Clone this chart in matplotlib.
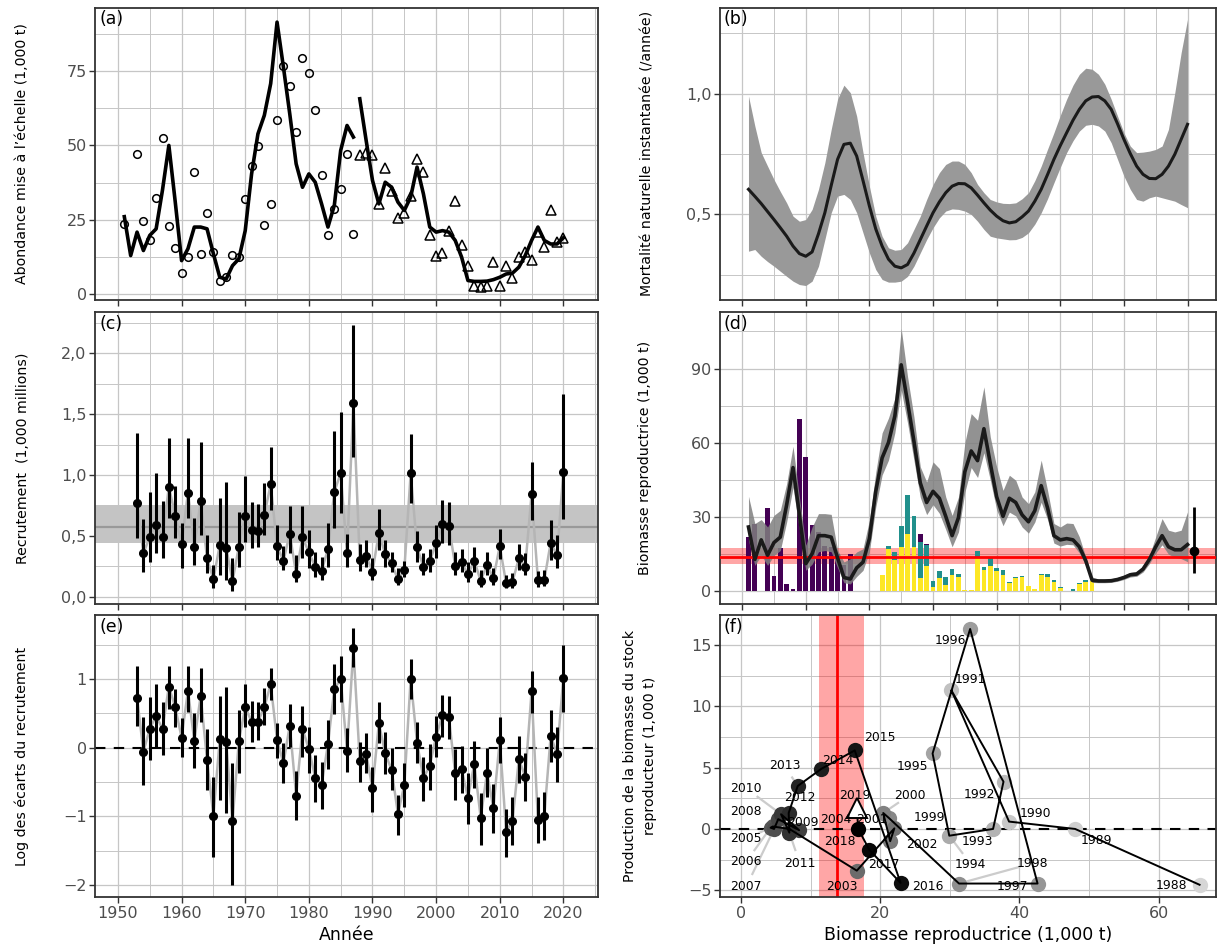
import numpy as np
import matplotlib
matplotlib.use("Agg")
import matplotlib.pyplot as plt
from matplotlib.ticker import FixedLocator

plt.rcParams['font.family'] = ['DejaVu Sans']

# ---- data ----
ssb_years = list(range(1951, 2021))
ssb = [26.0, 12.9, 20.8, 14.6, 19.7, 21.9, 35.0, 50.0, 31.0, 11.2,
       15.2, 22.5, 22.5, 21.9, 13.5, 5.6, 5.0, 9.5, 11.8, 21.3,
       40.4, 53.9, 60.1, 70.8, 91.5, 76.4, 60.6, 43.8, 35.9, 40.4,
       37.6, 30.3, 22.5, 29.8, 48.3, 56.7, 52.8, 65.7, 51.7, 38.2,
       30.3, 37.6, 35.9, 30.9, 28.1, 32.6, 42.7, 33.7, 22.5, 20.8,
       21.3, 20.8, 18.0, 12.4, 4.5, 4.2, 4.2, 4.3, 4.8, 5.6,
       6.7, 7.0, 9.0, 12.9, 18.0, 22.5, 18.0, 16.8, 16.8, 18.9]
ssb_hi = [38.4, 27.4, 29.0, 26.0, 30.7, 32.7, 43.5, 58.6, 38.1, 18.6,
          26.0, 31.4, 31.4, 31.1, 16.6, 11.9, 13.2, 15.9, 17.2, 28.7,
          48.0, 64.0, 70.0, 78.0, 106.2, 86.7, 70.5, 50.3, 44.2, 52.3,
          49.6, 38.1, 30.7, 38.1, 60.0, 71.8, 69.1, 82.6, 62.4, 50.3,
          40.8, 46.9, 44.9, 38.1, 35.4, 40.2, 53.0, 40.8, 27.4, 26.0,
          27.6, 27.4, 22.0, 13.9, 5.8, 5.0, 5.0, 5.1, 5.6, 6.5,
          7.7, 8.0, 10.2, 14.6, 22.0, 29.4, 24.7, 24.0, 24.7, 32.1]
ssb_lo = [20.6, 10.5, 14.5, 10.5, 14.5, 16.5, 28.0, 42.0, 25.0, 8.5,
          11.0, 16.0, 16.5, 16.0, 9.5, 3.5, 3.0, 6.0, 8.5, 16.0,
          34.0, 47.0, 53.0, 64.0, 81.3, 68.0, 53.0, 38.0, 31.0, 35.0,
          31.5, 25.0, 18.0, 24.0, 40.0, 50.0, 46.0, 56.0, 45.0, 33.0,
          26.5, 32.0, 30.5, 26.0, 23.5, 28.0, 36.0, 29.0, 19.5, 18.3,
          19.0, 18.8, 15.5, 10.5, 3.6, 3.5, 3.5, 3.6, 4.1, 4.8,
          5.8, 6.1, 7.8, 11.2, 15.5, 18.8, 15.0, 13.8, 13.2, 12.0]

surv1_years = [1951, 1953, 1954, 1955, 1956, 1957, 1958, 1959, 1960, 1961,
               1962, 1963, 1964, 1965, 1966, 1967, 1968, 1969, 1970, 1971,
               1972, 1973, 1974, 1975, 1976, 1977, 1978, 1979, 1980, 1981,
               1982, 1983, 1984, 1985, 1986, 1987]
surv1 = [23.4, 47.2, 24.5, 18.0, 32.3, 52.6, 22.7, 15.4, 7.0, 12.4,
         41.0, 13.3, 27.2, 14.2, 4.3, 5.8, 13.0, 12.4, 32.1, 43.2,
         49.9, 23.1, 30.4, 58.7, 76.8, 70.1, 54.5, 79.4, 74.5, 62.0,
         39.9, 19.9, 28.5, 35.3, 47.2, 20.0]
surv2_years = list(range(1988, 2021))
surv2 = [46.6, 47.6, 46.6, 30.1, 42.5, 34.6, 25.6, 27.4, 33.1, 45.5,
         41.0, 19.9, 12.9, 13.7, 21.3, 31.4, 16.5, 9.5, 2.8, 2.2,
         2.8, 10.7, 2.5, 9.5, 5.4, 12.4, 14.0, 11.5, 20.8, 15.9,
         28.3, 17.4, 18.9]

mort = [0.604, 0.575, 0.545, 0.512, 0.479, 0.445, 0.410, 0.369, 0.338, 0.327,
        0.345, 0.420, 0.507, 0.620, 0.728, 0.790, 0.795, 0.742, 0.640, 0.535,
        0.440, 0.369, 0.315, 0.286, 0.279, 0.293, 0.340, 0.396, 0.452, 0.507,
        0.552, 0.590, 0.617, 0.628, 0.627, 0.610, 0.580, 0.548, 0.518, 0.493,
        0.474, 0.465, 0.470, 0.490, 0.514, 0.555, 0.604, 0.665, 0.728, 0.785,
        0.838, 0.890, 0.935, 0.970, 0.986, 0.988, 0.970, 0.935, 0.875, 0.811,
        0.752, 0.700, 0.666, 0.649, 0.648, 0.666, 0.700, 0.749, 0.811, 0.873]
mort_hi = [0.990, 0.866, 0.756, 0.700, 0.645, 0.595, 0.548, 0.493, 0.472, 0.479,
           0.521, 0.604, 0.714, 0.852, 0.977, 1.035, 1.004, 0.907, 0.756, 0.617,
           0.493, 0.410, 0.362, 0.352, 0.355, 0.383, 0.438, 0.493, 0.562, 0.624,
           0.673, 0.707, 0.721, 0.721, 0.707, 0.673, 0.624, 0.590, 0.562, 0.552,
           0.546, 0.545, 0.548, 0.565, 0.590, 0.640, 0.700, 0.770, 0.838, 0.910,
           0.977, 1.035, 1.080, 1.105, 1.101, 1.080, 1.039, 0.977, 0.907, 0.838,
           0.783, 0.756, 0.758, 0.762, 0.769, 0.783, 0.852, 1.004, 1.170, 1.308]
mort_lo = [0.348, 0.355, 0.327, 0.305, 0.286, 0.265, 0.244, 0.224, 0.210, 0.206,
           0.224, 0.286, 0.396, 0.507, 0.576, 0.583, 0.562, 0.507, 0.424, 0.341,
           0.272, 0.231, 0.220, 0.220, 0.224, 0.244, 0.286, 0.341, 0.396, 0.445,
           0.486, 0.514, 0.523, 0.521, 0.514, 0.500, 0.472, 0.438, 0.410, 0.403,
           0.399, 0.395, 0.396, 0.405, 0.424, 0.460, 0.507, 0.565, 0.631, 0.695,
           0.756, 0.805, 0.845, 0.869, 0.873, 0.866, 0.845, 0.797, 0.728, 0.659,
           0.604, 0.562, 0.555, 0.569, 0.576, 0.569, 0.562, 0.555, 0.541, 0.528]

rec_years = list(range(1953, 2021))
rec = [0.767, 0.356, 0.493, 0.589, 0.488, 0.904, 0.666, 0.430, 0.855, 0.411,
       0.789, 0.315, 0.145, 0.425, 0.403, 0.129, 0.411, 0.666, 0.548, 0.542,
       0.671, 0.923, 0.416, 0.296, 0.518, 0.186, 0.488, 0.364, 0.247, 0.214,
       0.389, 0.863, 1.014, 0.356, 1.589, 0.301, 0.337, 0.205, 0.526, 0.348,
       0.274, 0.142, 0.219, 1.014, 0.405, 0.247, 0.293, 0.438, 0.595, 0.584,
       0.255, 0.282, 0.184, 0.293, 0.132, 0.260, 0.151, 0.416, 0.110, 0.123,
       0.315, 0.247, 0.841, 0.137, 0.137, 0.444, 0.342, 1.027]
rec_hi = [1.342, 0.638, 0.858, 1.014, 0.786, 1.301, 0.912, 0.603, 1.307, 0.649,
          1.274, 0.507, 0.260, 0.814, 0.940, 0.315, 0.699, 0.992, 0.781, 0.759,
          0.937, 1.233, 0.589, 0.419, 0.748, 0.342, 0.748, 0.548, 0.364, 0.329,
          0.603, 1.364, 1.521, 0.515, 2.233, 0.430, 0.466, 0.315, 0.721, 0.466,
          0.364, 0.233, 0.293, 1.334, 0.540, 0.356, 0.392, 0.589, 0.795, 0.781,
          0.364, 0.389, 0.288, 0.411, 0.219, 0.364, 0.238, 0.556, 0.178, 0.192,
          0.430, 0.356, 1.110, 0.211, 0.219, 0.630, 0.507, 1.663]
rec_lo = [0.479, 0.205, 0.288, 0.356, 0.315, 0.644, 0.479, 0.233, 0.644, 0.260,
          0.507, 0.192, 0.068, 0.178, 0.137, 0.047, 0.247, 0.452, 0.397, 0.411,
          0.507, 0.712, 0.301, 0.219, 0.356, 0.123, 0.315, 0.233, 0.164, 0.137,
          0.247, 0.562, 0.685, 0.247, 1.151, 0.211, 0.247, 0.137, 0.384, 0.247,
          0.205, 0.096, 0.164, 0.767, 0.288, 0.178, 0.205, 0.315, 0.438, 0.425,
          0.178, 0.205, 0.123, 0.205, 0.082, 0.178, 0.096, 0.310, 0.068, 0.074,
          0.219, 0.178, 0.630, 0.082, 0.090, 0.301, 0.233, 0.636]
rec_mean, rec_band_lo, rec_band_hi = 0.570, 0.444, 0.753

dev = [0.728, -0.058, 0.272, 0.461, 0.272, 0.888, 0.587, 0.146, 0.825, 0.097,
       0.752, -0.180, -0.990, 0.126, 0.078, -1.068, 0.097, 0.587, 0.379, 0.379,
       0.587, 0.922, 0.112, -0.228, 0.320, -0.699, 0.272, -0.019, -0.437, -0.544,
       0.049, 0.850, 1.000, -0.049, 1.447, -0.194, -0.092, -0.592, 0.354, -0.083,
       -0.325, -0.966, -0.544, 1.000, 0.073, -0.447, -0.262, 0.160, 0.476, 0.442,
       -0.374, -0.316, -0.728, -0.238, -1.019, -0.364, -0.883, 0.112, -1.223, -1.068,
       -0.170, -0.422, 0.816, -1.053, -0.990, 0.170, -0.092, 1.019]
dev_hi = [1.189, 0.451, 0.733, 0.927, 0.670, 1.189, 0.850, 0.427, 1.189, 0.500,
          1.155, 0.267, -0.422, 0.752, 0.888, -0.228, 0.549, 0.927, 0.680, 0.670,
          0.874, 1.155, 0.354, 0.063, 0.636, -0.340, 0.612, 0.306, -0.107, -0.204,
          0.403, 1.218, 1.340, 0.282, 1.738, 0.087, 0.209, -0.277, 0.660, 0.223,
          -0.010, -0.689, -0.228, 1.286, 0.379, -0.131, 0.053, 0.461, 0.767, 0.752,
          -0.024, 0.024, -0.364, 0.102, -0.655, -0.010, -0.529, 0.442, -0.898, -0.723,
          0.170, -0.083, 1.121, -0.723, -0.641, 0.549, 0.306, 1.495]
dev_lo = [0.316, -0.544, -0.180, 0.000, -0.107, 0.563, 0.306, -0.131, 0.524, -0.301,
          0.379, -0.617, -1.587, -0.762, -0.956, -2.000, -0.364, 0.306, 0.087, 0.112,
          0.330, 0.694, -0.155, -0.510, 0.015, -1.053, -0.131, -0.364, -0.786, -0.898,
          -0.316, 0.490, 0.670, -0.350, 1.170, -0.495, -0.374, -0.932, 0.063, -0.388,
          -0.617, -1.272, -0.859, 0.704, -0.228, -0.772, -0.617, -0.131, 0.160, 0.121,
          -0.762, -0.655, -1.112, -0.592, -1.417, -0.714, -1.238, -0.228, -1.587, -1.417,
          -0.519, -0.772, 0.500, -1.393, -1.345, -0.204, -0.495, 0.524]

# catches (bars in panel d)
catch_years_early = list(range(1951, 1968))
catch_early = [21.9, 27.1, 0.3, 33.6, 6.1, 17.4, 2.8, 0.8, 69.5, 54.3,
               26.7, 23.8, 18.2, 17.8, 15.0, 10.8, 15.1]
catch_years_late = list(range(1972, 2006))
catch_yellow = [6.8, 17.0, 12.5, 17.8, 23.0, 17.8, 5.3, 10.4, 1.8, 5.4,
                2.5, 6.5, 5.7, 0.4, 0.4, 13.8, 8.5, 10.1, 8.2, 6.5,
                3.3, 5.6, 5.7, 2.0, 0.9, 6.8, 5.8, 3.6, 1.2, 0.0,
                0.3, 2.9, 3.9, 4.0]
catch_teal = [0.0, 1.3, 3.6, 8.4, 15.8, 12.5, 14.6, 8.3, 2.3, 2.7,
              3.2, 2.4, 1.2, 0.0, 0.0, 2.4, 1.3, 3.2, 1.4, 2.0,
              0.4, 0.2, 0.4, 0.0, 0.0, 0.2, 1.1, 0.9, 0.4, 0.0,
              0.5, 0.4, 0.5, 0.0]
catch_purple_late = [0.0] * 6 + [3.1, 0.6] + [0.0] * 26

ref_point, ref_lo, ref_hi = 13.8, 11.2, 17.7
proj_year, proj_ssb, proj_lo, proj_hi = 2021, 16.3, 7.5, 34.1

# panel f: surplus production vs spawning biomass
prod_years = list(range(1988, 2020))
prod_ssb = [65.9, 48.0, 38.5, 30.2, 37.7, 36.2, 29.9, 27.5, 32.9, 42.6,
            31.3, 21.2, 20.4, 21.4, 22.0, 16.6, 6.9, 4.5, 4.2, 4.7,
            5.3, 8.3, 5.7, 6.9, 6.8, 8.1, 11.5, 16.3, 22.9, 18.4,
            16.8, 16.6]
prod = [-4.55, 0.0, 0.6, 11.3, 3.85, 0.0, -0.55, 6.15, 16.3, -4.45,
        -4.45, 0.9, 1.3, -1.0, 0.05, -3.4, 0.0, 0.2, 0.1, 0.0,
        0.8, -0.1, 1.2, -0.3, 1.3, 3.5, 4.9, 6.4, -4.4, -1.7,
        0.0, 1.7]
lab_x = [61.9, 51.0, 42.3, 33.0, 34.3, 34.0, 33.0, 24.6, 30.0, 39.0,
         41.9, 27.1, 24.2, 18.7, 26.0, 14.5, 13.6, 0.7, 0.7, 0.7,
         0.7, 8.9, 0.7, 8.4, 8.4, 6.2, 13.9, 19.9, 26.8, 20.5,
         14.2, 16.3]
lab_y = [-4.6, -0.98, 1.27, 12.2, 2.8, -1.03, -2.87, 5.1, 15.4, -4.7,
         -2.8, 0.92, 2.76, 0.73, -1.25, -4.7, 0.81, -0.81, -2.66, -4.7,
         1.41, 0.54, 3.3, -2.8, 2.55, 5.15, 5.56, 7.43, -4.7, -2.87,
         -1.03, 2.71]
leader_years = [1994, 1998, 2000, 2005, 2006, 2007, 2010, 2011, 2013]

# ---- styling helpers ----
GRID = '#C6C6C6'
FRAME = '#333333'
TICKC = '#4D4D4D'
TS = 11.5


def fmt(v, dec):
    s = f"{v:.{dec}f}".replace('.', ',')
    return s.replace('-', '\u2212')


def style(ax, xmaj, xmin, ymaj, ymin, ydec, xlabels, xdec=0):
    ax.set_axisbelow(True)
    ax.xaxis.set_major_locator(FixedLocator(xmaj))
    ax.xaxis.set_minor_locator(FixedLocator(xmin))
    ax.yaxis.set_major_locator(FixedLocator(ymaj))
    ax.yaxis.set_minor_locator(FixedLocator(ymin))
    ax.grid(which='major', color=GRID, lw=0.9)
    ax.grid(which='minor', color=GRID, lw=0.7)
    ax.set_yticklabels([fmt(v, ydec) for v in ymaj])
    if xlabels:
        ax.set_xticklabels([fmt(v, xdec) for v in xmaj])
    else:
        ax.set_xticklabels([])
    ax.tick_params(which='major', length=4, width=1.0, color=FRAME,
                   labelcolor=TICKC, labelsize=TS, pad=2)
    ax.tick_params(which='minor', length=0)
    for sp in ax.spines.values():
        sp.set_color(FRAME)
        sp.set_linewidth(1.3)


def ylab(ax, s, xc, **kw):
    ax.set_ylabel(s, fontsize=YL, **kw)
    ax.yaxis.label.set_va('center')
    ax.yaxis.set_label_coords(xc, 0.5)


def xlab(ax, s):
    ax.set_xlabel(s, fontsize=12.5)
    ax.xaxis.label.set_va('center')
    ax.xaxis.set_label_coords(0.5, -0.133)


def tag(ax, s):
    ax.text(0.008, 0.99, s, transform=ax.transAxes, ha='left', va='top',
            fontsize=12.5, color='black', zorder=10)


fig = plt.figure(figsize=(12.17, 9.47), dpi=100)
L0, LW = 0.0781, 0.4136
R0, RW = 0.5915, 0.4073
rows = [(0.6837, 0.3083), (0.3622, 0.3080), (0.0525, 0.2981)]

ax_a = fig.add_axes([L0, rows[0][0], LW, rows[0][1]])
ax_b = fig.add_axes([R0, rows[0][0], RW, rows[0][1]])
ax_c = fig.add_axes([L0, rows[1][0], LW, rows[1][1]])
ax_d = fig.add_axes([R0, rows[1][0], RW, rows[1][1]])
ax_e = fig.add_axes([L0, rows[2][0], LW, rows[2][1]])
ax_f = fig.add_axes([R0, rows[2][0], RW, rows[2][1]])

yr_maj = list(range(1950, 2021, 10))
yr_min = list(range(1945, 2026, 5))
YL = 10.2

# (a) scaled abundance
ax_a.plot(ssb_years[:37], ssb[:37], color='black', lw=2.6, zorder=3)
ax_a.plot(ssb_years[37:], ssb[37:], color='black', lw=2.6, zorder=3)
ax_a.plot(surv1_years, surv1, 'o', ms=5.5, mfc='none', mec='black', mew=1.1, zorder=4)
ax_a.plot(surv2_years, surv2, '^', ms=7, mfc='none', mec='black', mew=1.1, zorder=4)
ax_a.set_xlim(1946.4, 2025.5)
ax_a.set_ylim(-1.9, 96.4)
style(ax_a, yr_maj, yr_min, [0, 25, 50, 75], [12.5, 37.5, 62.5, 87.5], 0, False)
ylab(ax_a, "Abondance mise \u00e0 l\u2019\u00e9chelle (1,000 t)", -0.145)
tag(ax_a, '(a)')

# (b) natural mortality
ax_b.fill_between(ssb_years, mort_lo, mort_hi, color='#999999', lw=0, zorder=2)
ax_b.plot(ssb_years, mort, color='#1A1A1A', lw=2.2, zorder=3)
ax_b.set_xlim(1946.5, 2024.4)
ax_b.set_ylim(0.148, 1.356)
style(ax_b, yr_maj, yr_min, [0.5, 1.0], [0.25, 0.75, 1.25], 1, False)
ylab(ax_b, "Mortalit\u00e9 naturelle instantan\u00e9e (/ann\u00e9e)", -0.145)
tag(ax_b, '(b)')

# (c) recruitment
ax_c.axhspan(rec_band_lo, rec_band_hi, color='#C4C4C4', lw=0, zorder=1.5)
ax_c.axhline(rec_mean, color='#999999', lw=1.6, zorder=1.6)
ax_c.plot(rec_years, rec, color='#B5B5B5', lw=1.8, zorder=2)
ax_c.vlines(rec_years, rec_lo, rec_hi, color='black', lw=2.2, zorder=3)
ax_c.plot(rec_years, rec, 'o', color='black', ms=5.5, zorder=4)
ax_c.set_xlim(1946.4, 2025.5)
ax_c.set_ylim(-0.06, 2.337)
style(ax_c, yr_maj, yr_min, [0.0, 0.5, 1.0, 1.5, 2.0], [0.25, 0.75, 1.25, 1.75, 2.25], 1, False)
ylab(ax_c, "Recrutement  (1,000 millions)", -0.143)
tag(ax_c, '(c)')

# (d) spawning biomass with catches
bw = 0.75
ax_d.axhspan(ref_lo, ref_hi, color='#FF0000', alpha=0.35, lw=0, zorder=1.5)
ax_d.bar(catch_years_early, catch_early, width=bw, color='#440154', zorder=2)
ax_d.bar(catch_years_late, catch_yellow, width=bw, color='#FDE725', zorder=2)
ax_d.bar(catch_years_late, catch_teal, width=bw, bottom=catch_yellow,
         color='#21908C', zorder=2)
bottom_p = [a + b for a, b in zip(catch_yellow, catch_teal)]
ax_d.bar(catch_years_late, catch_purple_late, width=bw, bottom=bottom_p,
         color='#440154', zorder=2)
ax_d.fill_between(ssb_years, ssb_lo, ssb_hi, color='#7F7F7F', alpha=0.85, lw=0, zorder=2.5)
ax_d.axhline(ref_point, color='#FF0000', lw=2.0, zorder=2.8)
ax_d.plot(ssb_years, ssb, color='#1A1A1A', lw=2.6, zorder=3)
ax_d.vlines([proj_year], [proj_lo], [proj_hi], color='black', lw=2.0, zorder=4)
ax_d.plot([proj_year], [proj_ssb], 'o', color='black', ms=6, zorder=4)
ax_d.set_xlim(1946.5, 2024.4)
ax_d.set_ylim(-5.1, 112.7)
style(ax_d, yr_maj, yr_min, [0, 30, 60, 90], [15, 45, 75, 105], 0, False)
ylab(ax_d, "Biomasse reproductrice (1,000 t)", -0.151)
tag(ax_d, '(d)')

# (e) log recruitment deviations
ax_e.axhline(0, color='black', lw=1.5, ls=(0, (5, 4)), zorder=1.8)
ax_e.plot(rec_years, dev, color='#B5B5B5', lw=1.8, zorder=2)
ax_e.vlines(rec_years, dev_lo, dev_hi, color='black', lw=2.2, zorder=3)
ax_e.plot(rec_years, dev, 'o', color='black', ms=5.5, zorder=4)
ax_e.set_xlim(1946.4, 2025.5)
ax_e.set_ylim(-2.18, 1.93)
style(ax_e, yr_maj, yr_min, [-2, -1, 0, 1], [-1.5, -0.5, 0.5, 1.5], 0, True)
ylab(ax_e, "Log des \u00e9carts du recrutement", -0.145)
xlab(ax_e, "Ann\u00e9e")
tag(ax_e, '(e)')

# (f) production vs biomass
ax_f.set_xlim(-3.1, 68.2)
ax_f.set_ylim(-5.57, 17.44)
ax_f.axvspan(ref_lo, ref_hi, color='#FF0000', alpha=0.35, lw=0, zorder=1.2)
ax_f.axvline(ref_point, color='#FF0000', lw=2.0, zorder=1.3)
ax_f.axhline(0, color='black', lw=1.5, ls=(0, (5, 4)), zorder=1.4)
fig.canvas.draw()
tr = ax_f.transData
inv = tr.inverted()
for yr, px, py, lx, ly in zip(prod_years, prod_ssb, prod, lab_x, lab_y):
    if yr in leader_years:
        p0 = tr.transform((px, py))
        p1 = tr.transform((lx, ly))
        d = p1 - p0
        dist = np.hypot(*d)
        end = p0 + d * max(dist - 14, 0) / dist
        q0 = inv.transform(p0)
        q1 = inv.transform(end)
        ax_f.plot([q0[0], q1[0]], [q0[1], q1[1]], color='#CCCCCC', lw=1.6, zorder=1.6)
for yr, px, py in zip(prod_years, prod_ssb, prod):
    if yr == 2019:
        continue
    g = 0.84 * (1 - (yr - 1988) / 30.0)
    ax_f.plot([px], [py], 'o', ms=11, color=(g, g, g), mec='none', zorder=2)
ax_f.plot(prod_ssb, prod, color='black', lw=1.4, zorder=3)
ax_f.plot([prod_ssb[-1]], [prod[-1]], '^', ms=14, mfc='white', mec='black', mew=1.4, zorder=4)
for yr, lx, ly in zip(prod_years, lab_x, lab_y):
    ax_f.text(lx, ly, str(yr), ha='center', va='center', fontsize=8.9, color='black', zorder=5)
style(ax_f, [0, 20, 40, 60], [10, 30, 50], [-5, 0, 5, 10, 15], [-2.5, 2.5, 7.5, 12.5], 0, True)
ylab(ax_f, "Production de la biomasse du stock\nreproducteur (1,000 t)", -0.161,
     linespacing=1.5)
xlab(ax_f, "Biomasse reproductrice (1,000 t)")
tag(ax_f, '(f)')

fig.savefig("out.png", dpi=100)
